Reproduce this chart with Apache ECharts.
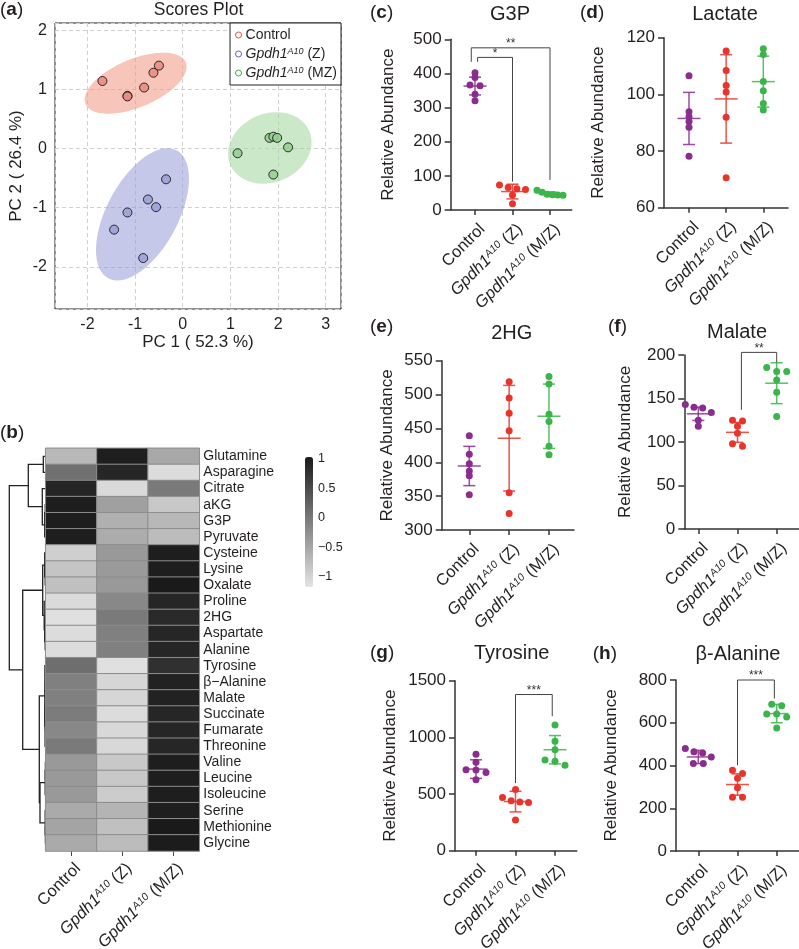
<!DOCTYPE html>
<html><head><meta charset="utf-8">
<script src="https://cdn.jsdelivr.net/npm/echarts@6/dist/echarts.min.js"></script>
<style>html,body{margin:0;padding:0;background:#fff}#c{width:799px;height:949px}</style>
</head><body><div id="c"></div>
<script>
// ================= DATA =================
// (a) PCA scores
const pcaControl = [[-1.685,1.14],[-1.16,0.89],[-1.16,0.88],[-0.81,1.03],[-0.615,1.28],[-0.50,1.40]];
const pcaZ       = [[-0.35,-0.52],[-0.73,-0.86],[-0.56,-0.99],[-1.16,-1.08],[-1.44,-1.37],[-0.83,-1.85]];
const pcaMZ      = [[1.15,-0.08],[1.82,0.18],[1.90,0.20],[1.98,0.18],[2.21,0.02],[1.90,-0.44]];
const pcaTicks   = [-2,-1,0,1,2,3];
const pcaYTicks  = [-2,-1,0,1,2];
const pcaLegendNames = ['Control','Gpdh1A10 (Z)','Gpdh1A10 (MZ)'];

// (b) heatmap (row z-scores) and dendrogram
const metabolites = ['Glutamine','Asparagine','Citrate','aKG','G3P','Pyruvate','Cysteine','Lysine','Oxalate','Proline','2HG','Aspartate','Alanine','Tyrosine','\u03B2\u2212Alanine','Malate','Succinate','Fumarate','Threonine','Valine','Leucine','Isoleucine','Serine','Methionine','Glycine'];
const heatControl = [-0.69,0.09,0.91,0.99,0.99,0.99,-0.94,-0.82,-0.78,-1.06,-1.13,-1.08,-1.08,0.11,-0.08,-0.08,-0.04,-0.17,-0.02,-0.35,-0.35,-0.35,-0.54,-0.47,-0.54];
const heatZ       = [0.99,0.90,-1.06,-0.43,-0.60,-0.56,-0.35,-0.36,-0.35,-0.17,-0.02,-0.08,-0.08,-1.13,-1.02,-1.02,-1.08,-1.04,-1.04,-0.87,-0.87,-0.91,-0.65,-0.78,-0.73];
const heatMZ      = [-0.52,-1.08,-0.02,-0.87,-0.69,-0.73,0.99,0.99,1.03,0.90,0.86,0.90,0.90,0.79,0.94,0.94,0.90,0.90,0.90,0.99,0.99,0.99,0.99,1.03,1.01];
const colorbarTicks = [-1,-0.5,0,0.5,1];
// merges: [childA, childB, height]; leaves 0..24, new nodes numbered from 25
const dendroMerges = [
  [3,4,0.5],[25,5,1],[2,26,3.4],[0,1,2.4],[28,27,17.4],
  [7,8,0.5],[6,30,1],[11,12,0.5],[10,32,1],[9,33,1.5],[31,34,3],
  [14,15,0.3],[16,17,0.3],[36,37,0.5],[38,18,0.6],[13,39,0.8],
  [19,20,0.3],[41,21,0.5],[23,24,0.3],[22,43,0.5],[42,44,5.7],[40,45,6.4],
  [35,46,23],[29,47,36.4]
];

// genotype categories
const genotypes = ['Control','Z','M/Z'];

// (c) G3P
const g3pValues = [[402,388,366,364,339,320],[73,66,62,60,44,18],[58,52,46,45,44,43]];
const g3pMean = [363,54,47];
const g3pSD = [26,21.5,6];
const g3pBrackets = [[1,3,475,434,88,'**'],[1,2,447,434,83,'*']];
// (d) Lactate
const lacValues = [[106.6,93.9,92.1,90.4,88.4,78.2],[115.3,108.4,103.1,100.8,91.9,70.6],[116.1,114.1,104.5,101.3,96.8,94.5]];
const lacMean = [91.5,98.4,104.5];
const lacSD = [9.2,15.6,9];
// (e) 2HG
const hgValues = [[439,412,398,387,380,352],[519,495,472.5,446.6,355,324.4],[526.5,515.7,471.1,460.3,423.5,411.3]];
const hgMean = [394.5,435.5,468];
const hgSD = [29,78,47.5];
// (f) Malate
const malValues = [[143,140,139,134,125,118],[125,124,118,110,98,95],[185.5,181,181,171.4,157.3,129.4]];
const malMean = [132.4,111.1,167.6];
const malSD = [7.6,11.5,23.5];
const malBrackets = [[2,3,203,137,191.6,'**']];
// (g) Tyrosine
const tyrValues = [[850,780,715,712,690,625],[540,470,440,430,425,270],[1110,965,890,800,790,755]];
const tyrMean = [720,433.6,891];
const tyrSD = [82,91,125];
const tyrBrackets = [[2,3,1378,596,1186,'***']];
// (h) beta-Alanine
const balValues = [[479,464,459,440,409,409],[378,362,340,296,252,252],[686,680,641,641,627,576]];
const balMean = [440,311,643];
const balSD = [31,50,43];
const balBrackets = [[2,3,800,401,713,'***']];

// ================= STYLE / LAYOUT =================
const FONT = '"Liberation Sans", Arial, Helvetica, sans-serif';
const TXT = '#231f20';
const AX = '#333';
const CAT_COLORS = ['#8b2c8f','#e8342a','#3bb54a'];
const PCA_STYLE = [
  {fill:'rgba(240,150,130,0.55)', point:'#ea8c82', legend:'#d9534f'},
  {fill:'rgba(150,155,215,0.55)', point:'#9ca2d6', legend:'#5b63b5'},
  {fill:'rgba(160,215,155,0.55)', point:'#95cf92', legend:'#3fae49'}
];
const SWARM_GAP = 4.4, SWARM_STEP = 10, SWARM_MAXW = 26;

const richCat = {
  n:{fontSize:16.5, fontFamily:FONT, color:TXT},
  i:{fontSize:16.5, fontFamily:FONT, color:TXT, fontStyle:'italic'},
  s:{fontSize:10.5, fontFamily:FONT, color:TXT, fontStyle:'italic', verticalAlign:'top'}
};
function catLabel(k){ return k===0 ? '{n|Control}' : '{i|Gpdh1}{s|A10}{n| (' + genotypes[k] + ')}'; }

const panels = [
  {tag:'c', title:'G3P', values:g3pValues, mean:g3pMean, sd:g3pSD, brackets:g3pBrackets, yMin:0, yMax:500, yInt:100,
   L:{left:450.7, top:39.3, bottom:210, right:571.7, tick1:475, unit:37.5, nameGap:54, title:[510,14], tagPos:[370,13]}, nudge:[[-0.1,0],[0.07,0]]},
  {tag:'d', title:'Lactate', values:lacValues, mean:lacMean, sd:lacSD, brackets:[], yMin:60, yMax:120, yInt:20,
   L:{left:664, top:37.7, bottom:207.7, right:788, tick1:689, unit:37.15, nameGap:57, title:[725,14], tagPos:[580,13]}},
  {tag:'e', title:'2HG', values:hgValues, mean:hgMean, sd:hgSD, brackets:[], yMin:300, yMax:550, yInt:50,
   L:{left:441.7, top:360.7, bottom:530, right:574, tick1:469.3, unit:39.85, nameGap:46, title:[511.7,333], tagPos:[370,327]}},
  {tag:'f', title:'Malate', values:malValues, mean:malMean, sd:malSD, brackets:malBrackets, yMin:0, yMax:200, yInt:50,
   L:{left:684.3, top:355, bottom:529, right:799, tick1:698.3, unit:39.2, nameGap:50, title:[737,332], tagPos:[608,327]}, nudge:[[0.1,0]]},
  {tag:'g', title:'Tyrosine', values:tyrValues, mean:tyrMean, sd:tyrSD, brackets:tyrBrackets, yMin:0, yMax:1500, yInt:500,
   L:{left:455, top:680.7, bottom:850.7, right:576.7, tick1:476, unit:39.5, nameGap:56, title:[511.7,653], tagPos:[370,653]}, nudge:[[0,-0.07]]},
  {tag:'h', title:'\u03B2-Alanine', values:balValues, mean:balMean, sd:balSD, brackets:balBrackets, yMin:0, yMax:800, yInt:200,
   L:{left:676, top:680, bottom:851, right:799, tick1:698.3, unit:39.2, nameGap:56, title:[738,654], tagPos:[592.7,654]}, nudge:[[0,-0.06]]}
];

// ================= HELPERS =================
function ellipse(pts){
  const n = pts.length;
  const mx = pts.reduce((s,p)=>s+p[0],0)/n, my = pts.reduce((s,p)=>s+p[1],0)/n;
  let sxx=0, syy=0, sxy=0;
  pts.forEach(p=>{ sxx+=(p[0]-mx)**2; syy+=(p[1]-my)**2; sxy+=(p[0]-mx)*(p[1]-my); });
  sxx/=(n-1); syy/=(n-1); sxy/=(n-1);
  const tr = sxx+syy, det = sxx*syy-sxy*sxy, disc = Math.sqrt(Math.max(tr*tr/4-det,0));
  const l1 = tr/2+disc, l2 = Math.max(tr/2-disc,0);
  const th = 0.5*Math.atan2(2*sxy, sxx-syy);
  const k = Math.sqrt(5.991);
  const out = [];
  for (let i=0;i<120;i++){
    const t = 2*Math.PI*i/120;
    const a = k*Math.sqrt(l1)*Math.cos(t), b = k*Math.sqrt(l2)*Math.sin(t);
    out.push([mx + a*Math.cos(th) - b*Math.sin(th), my + a*Math.sin(th) + b*Math.cos(th)]);
  }
  return out;
}
function swarm(vals, cat, pxPerY, unitPx){
  const order = vals.map((v,i)=>i).sort((a,b)=>vals[b]-vals[a]);
  const rows = [];
  order.forEach(i=>{
    const r = rows[rows.length-1];
    if (r && (vals[r[r.length-1]]-vals[i])*pxPerY < SWARM_GAP && (vals[r[0]]-vals[i])*pxPerY < 2*SWARM_GAP) r.push(i); else rows.push([i]);
  });
  const xs = [];
  rows.forEach(r=>{
    const step = r.length>1 ? Math.min(SWARM_STEP, SWARM_MAXW/(r.length-1)) : 0;
    r.forEach((i,k)=>{ xs[i] = cat + (k-(r.length-1)/2)*step/unitPx; });
  });
  return vals.map((v,i)=>[xs[i], v]);
}
function dendroSegments(){
  const nLeaf = metabolites.length;
  const ys = [], hs = [];
  for (let i=0;i<nLeaf;i++){ ys[i]=i; hs[i]=0; }
  const segs = [];
  dendroMerges.forEach((m,j)=>{
    const id = nLeaf+j;
    ys[id] = (ys[m[0]]+ys[m[1]])/2; hs[id] = m[2];
    segs.push([m[2], ys[m[0]], hs[m[0]], ys[m[1]], hs[m[1]]]);
  });
  return segs;
}

// ================= OPTION =================
const grid=[], xAxis=[], yAxis=[], series=[], graphic=[];
const baseGrid = {outerBoundsMode:'none', containLabel:false};

// ---- (a) PCA ----
grid.push(Object.assign({left:55, top:23, width:286, height:286, show:true, borderColor:'#222', borderWidth:1, backgroundColor:'transparent'}, baseGrid));
xAxis.push({gridIndex:0, type:'value', min:-2.68, max:3.32,
  axisLine:{show:false}, axisTick:{show:false},
  splitLine:{show:true, lineStyle:{color:'#d0d0d0', type:[4,3], width:1}},
  axisLabel:{customValues:pcaTicks, fontSize:16, color:TXT, margin:8, fontFamily:FONT},
  name:'PC 1 ( 52.3 %)', nameLocation:'middle', nameGap:24, nameTextStyle:{fontSize:17, color:TXT, fontFamily:FONT}});
yAxis.push({gridIndex:0, type:'value', min:-2.71, max:2.12,
  axisLine:{show:false}, axisTick:{show:false},
  splitLine:{show:true, lineStyle:{color:'#d0d0d0', type:[4,3], width:1}},
  axisLabel:{customValues:pcaYTicks, fontSize:16, color:TXT, margin:8, fontFamily:FONT},
  name:'PC 2 ( 26.4 %)', nameLocation:'middle', nameGap:30, nameRotate:90, nameTextStyle:{fontSize:17, color:TXT, fontFamily:FONT}});
[pcaControl, pcaZ, pcaMZ].forEach((pts,g)=>{
  const ell = ellipse(pts);
  series.push({type:'custom', xAxisIndex:0, yAxisIndex:0, z:1, silent:true,
    data:[[pts[0][0], pts[0][1]]],
    renderItem:(params, api)=>({type:'polygon', shape:{points:ell.map(p=>api.coord(p))}, style:{fill:PCA_STYLE[g].fill}})
  });
});
[pcaControl, pcaZ, pcaMZ].forEach((pts,g)=>{
  series.push({type:'scatter', name:pcaLegendNames[g], xAxisIndex:0, yAxisIndex:0, z:3, symbol:'circle', symbolSize:9,
    itemStyle:{color:PCA_STYLE[g].point, borderColor:'#1a1a1a', borderWidth:1, opacity:0.9}, data:pts});
});

// ---- (b) dendrogram ----
grid.push(Object.assign({left:8, top:448.3, width:37.7, height:402.7}, baseGrid));
xAxis.push({gridIndex:1, type:'value', min:0, max:37.7, inverse:true, show:false});
yAxis.push({gridIndex:1, type:'value', min:-0.5, max:metabolites.length-0.5, inverse:true, show:false});
series.push({type:'custom', xAxisIndex:1, yAxisIndex:1, silent:true, data:dendroSegments(),
  renderItem:(params, api)=>{
    const hp=api.value(0), ya=api.value(1), ha=api.value(2), yb=api.value(3), hb=api.value(4);
    return {type:'polyline', shape:{points:[api.coord([ha,ya]), api.coord([hp,ya]), api.coord([hp,yb]), api.coord([hb,yb])]},
      style:{stroke:'#222', lineWidth:1.3, fill:null}};
  }});

// ---- (b) heatmap ----
grid.push(Object.assign({left:45.7, top:448.3, width:153.6, height:402.7}, baseGrid));
xAxis.push({gridIndex:2, type:'category', data:genotypes,
  axisLine:{show:false}, axisTick:{show:true, alignWithLabel:true, length:5, lineStyle:{color:'#444', width:1}},
  axisLabel:{formatter:(v,i)=>catLabel(i), rich:richCat, rotate:45, align:'right', verticalAlign:'top', padding:[4,3,0,0], margin:4, interval:0},
  splitLine:{show:false}});
yAxis.push({gridIndex:2, type:'category', data:metabolites, inverse:true, position:'right',
  axisLine:{show:false}, axisTick:{show:false}, splitLine:{show:false},
  axisLabel:{fontSize:14, color:TXT, margin:4, fontFamily:FONT, interval:0}});
const heatData = [];
[heatControl, heatZ, heatMZ].forEach((col,c)=>col.forEach((v,r)=>heatData.push([c, r, v])));
const heatSeriesIndex = series.length;
series.push({type:'heatmap', xAxisIndex:2, yAxisIndex:2, data:heatData, silent:true,
  itemStyle:{borderColor:'#8c8c8c', borderWidth:1}, emphasis:{disabled:true}});

// ---- colorbar labels ----
grid.push(Object.assign({left:305, top:457, width:8, height:130}, baseGrid));
xAxis.push({gridIndex:3, type:'value', show:false, min:0, max:1});
yAxis.push({gridIndex:3, type:'value', min:-1.17, max:1.03, position:'right',
  axisLine:{show:false}, axisTick:{show:false}, splitLine:{show:false},
  axisLabel:{customValues:colorbarTicks, fontSize:12.5, color:TXT, margin:5, fontFamily:FONT,
    formatter:v=> v<0 ? '\u2212'+Math.abs(v) : String(v)}});

// ---- (c)-(h) dot plots ----
panels.forEach((P,pi)=>{
  const gi = 4+pi, L = P.L;
  const gh = L.bottom-L.top, gw = L.right-L.left;
  grid.push(Object.assign({left:L.left, top:L.top, width:gw, height:gh}, baseGrid));
  const xmin = 1-(L.tick1-L.left)/L.unit, xmax = 1+(L.right-L.tick1)/L.unit;
  xAxis.push({gridIndex:gi, type:'value', min:xmin, max:xmax,
    axisLine:{show:true, onZero:false, lineStyle:{color:AX, width:1.5}},
    axisTick:{show:true, customValues:[1,2,3], length:5, lineStyle:{color:AX, width:1.5}},
    axisLabel:{customValues:[1,2,3], formatter:v=>catLabel(Math.round(v)-1), rich:richCat, rotate:45, align:'right', verticalAlign:'top', padding:[5,3,0,0], margin:5},
    splitLine:{show:false}});
  yAxis.push({gridIndex:gi, type:'value', min:P.yMin, max:P.yMax, interval:P.yInt,
    axisLine:{show:true, onZero:false, lineStyle:{color:AX, width:1.5}},
    axisTick:{show:true, length:6, lineStyle:{color:AX, width:1.5}},
    axisLabel:{fontSize:17, color:TXT, margin:9, fontFamily:FONT, formatter:v=>String(v)},
    splitLine:{show:false},
    name:'Relative Abundance', nameLocation:'middle', nameGap:L.nameGap, nameRotate:90,
    nameTextStyle:{fontSize:17, color:TXT, fontFamily:FONT}});
  const pxPerY = gh/(P.yMax-P.yMin);
  P.values.forEach((vals,k)=>{
    series.push({type:'scatter', name:P.tag+'-'+k, xAxisIndex:gi, yAxisIndex:gi, z:3, symbol:'circle', symbolSize:7,
      itemStyle:{color:CAT_COLORS[k], opacity:1}, data:swarm(vals, k+1, pxPerY, L.unit)});
  });
  series.push({type:'custom', xAxisIndex:gi, yAxisIndex:gi, z:4, silent:true,
    data:P.mean.map((m,k)=>[k+1, m, P.sd[k]]),
    renderItem:(params, api)=>{
      const c=api.value(0), m=api.value(1), s=api.value(2);
      const pm=api.coord([c,m]), pt=api.coord([c,m+s]), pb=api.coord([c,m-s]);
      const st={stroke:CAT_COLORS[c-1], lineWidth:1.5, opacity:0.85};
      return {type:'group', children:[
        {type:'line', shape:{x1:pm[0]-11.5,y1:pm[1],x2:pm[0]+11.5,y2:pm[1]}, style:st},
        {type:'line', shape:{x1:pt[0],y1:pt[1],x2:pb[0],y2:pb[1]}, style:st},
        {type:'line', shape:{x1:pt[0]-6,y1:pt[1],x2:pt[0]+6,y2:pt[1]}, style:st},
        {type:'line', shape:{x1:pb[0]-6,y1:pb[1],x2:pb[0]+6,y2:pb[1]}, style:st}
      ]};
    }});
  if (P.brackets.length){
    series.push({type:'custom', xAxisIndex:gi, yAxisIndex:gi, z:5, silent:true,
      data:P.brackets.map(b=>[b[0], b[2]]),
      renderItem:(params, api)=>{
        const b = P.brackets[params.dataIndex];
        const nd = (P.nudge && P.nudge[params.dataIndex]) || [0,0];
        const x1 = b[0]+nd[0], x2 = b[1]+nd[1];
        const t1=api.coord([x1,b[2]]), e1=api.coord([x1,b[3]]), t2=api.coord([x2,b[2]]), e2=api.coord([x2,b[4]]);
        return {type:'group', children:[
          {type:'polyline', shape:{points:[e1,t1,t2,e2]}, style:{stroke:'#444', lineWidth:1, fill:null}},
          {type:'text', x:(t1[0]+t2[0])/2, y:t1[1]-4, style:{text:b[5], textAlign:'center', textVerticalAlign:'middle', fontSize:12, fill:'#333', fontFamily:FONT}}
        ]};
      }});
  }
  graphic.push({type:'text', x:L.title[0], y:L.title[1], style:{text:P.title, textAlign:'center', textVerticalAlign:'middle', fontSize:20, fill:TXT, fontFamily:FONT}});
  graphic.push({type:'text', x:L.tagPos[0], y:L.tagPos[1], style:{text:'({b|'+P.tag+'})', textVerticalAlign:'middle', fontSize:19, fill:TXT, fontFamily:FONT,
    rich:{b:{fontWeight:'bold', fontSize:19, fill:TXT, fontFamily:FONT}}}});
});

// panel (a)/(b) labels & title
graphic.push({type:'text', x:0, y:10, style:{text:'({b|a})', textVerticalAlign:'middle', fontSize:19, fill:TXT, fontFamily:FONT, rich:{b:{fontWeight:'bold', fontSize:19, fill:TXT, fontFamily:FONT}}}});
graphic.push({type:'text', x:0, y:433, style:{text:'({b|b})', textVerticalAlign:'middle', fontSize:19, fill:TXT, fontFamily:FONT, rich:{b:{fontWeight:'bold', fontSize:19, fill:TXT, fontFamily:FONT}}}});
graphic.push({type:'text', x:198.5, y:10, style:{text:'Scores Plot', textAlign:'center', textVerticalAlign:'middle', fontSize:17.5, fill:TXT, fontFamily:FONT}});

const legendRich = {
  n:{fontSize:14, fontFamily:FONT, color:TXT},
  i:{fontSize:14, fontFamily:FONT, color:TXT, fontStyle:'italic'},
  s:{fontSize:9, fontFamily:FONT, color:TXT, fontStyle:'italic', verticalAlign:'top'}
};

const option = {
  animation:false, backgroundColor:'#fff', textStyle:{fontFamily:FONT},
  grid, xAxis, yAxis, series, graphic,
  legend:{right:799-341, top:23, orient:'vertical', itemWidth:6, itemHeight:6, itemGap:5,
    backgroundColor:'#fff', borderColor:'#222', borderWidth:1, padding:[5,4,5,5], selectedMode:false,
    data:pcaLegendNames.map((n,g)=>({name:n, icon:'circle', itemStyle:{color:'#fff', borderColor:PCA_STYLE[g].legend, borderWidth:1, opacity:1}})),
    formatter:n=> n==='Control' ? '{n|Control}' : '{i|Gpdh1}{s|A10}{n|' + n.slice(8) + '}',
    textStyle:{rich:legendRich, fontSize:14, color:TXT, padding:[0,0,0,-1]}},
  visualMap:{type:'continuous', seriesIndex:heatSeriesIndex, min:-1.17, max:1.03, inRange:{color:['#e4e4e4','#1a1a1a']},
    left:305, top:457, itemWidth:8, itemHeight:130, padding:0, calculable:false, hoverLink:false, text:null, showLabel:false}
};
const chart = echarts.init(document.getElementById('c'), null, {renderer:'canvas'});
chart.setOption(option);
</script></body></html>
